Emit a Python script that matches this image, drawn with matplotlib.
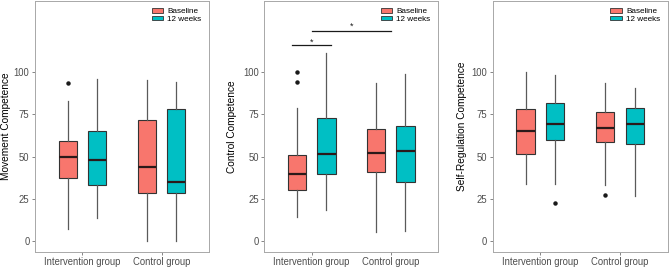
import matplotlib
matplotlib.use("Agg")
import matplotlib.pyplot as plt
from matplotlib.patches import Patch

plt.rcParams['font.family'] = ['Liberation Sans', 'DejaVu Sans']

groups = ["Intervention group", "Control group"]
timepoints = ["Baseline", "12 weeks"]
colors = ["#F8766D", "#00BFC4"]
ylabels = ["Movement Competence", "Control Competence", "Self-Regulation Competence"]
yticks = [0, 25, 50, 75, 100]

# stats per panel: [group][timepoint] = (whislo, q1, med, q3, whishi, fliers)
movement = [
    [(7.3, 37.1, 49.9, 59.4, 82.9, [93.3]), (13.8, 33.3, 47.9, 65.3, 95.7, [])],
    [(0.0, 28.2, 44.0, 71.6, 95.3, []), (0.0, 28.2, 34.7, 78.3, 93.9, [])],
]
control = [
    [(14.3, 30.1, 39.7, 51.1, 78.6, [99.8, 93.9]), (18.1, 39.5, 51.7, 72.7, 111.2, [])],
    [(5.5, 40.7, 52.1, 66.2, 93.6, []), (5.9, 35.0, 53.3, 68.0, 98.7, [])],
]
selfreg = [
    [(34.0, 51.3, 65.0, 78.0, 99.8, []), (34.0, 59.9, 69.4, 81.7, 98.2, [22.4])],
    [(33.0, 58.5, 67.0, 76.6, 93.3, [27.1]), (26.5, 57.4, 69.4, 78.6, 90.4, [])],
]
panels = [movement, control, selfreg]

# significance brackets for panel 2: (x_start, x_end, y, star_x, star_y)
sig_brackets = [(0.75, 1.25, 116.2, 1.0, 116.4), (1.0, 2.0, 124.0, 1.5, 125.5)]

fig = plt.figure(figsize=(6.69, 2.67), dpi=100)
lefts = [35 / 669, 264.3 / 669, 492.7 / 669]
widths = [174 / 669, 173.7 / 669, 175 / 669]
label_x = [-0.14, -0.158, -0.145]
bottom = 15 / 267
height = 251 / 267

grey = "#4D4D4D"
dodge = 0.1875
bw = 0.23

for pi, data in enumerate(panels):
    ax = fig.add_axes([lefts[pi], bottom, widths[pi], height])
    for gi in range(2):
        for ti in range(2):
            wl, q1, med, q3, wh, fl = data[gi][ti]
            st = dict(whislo=wl, q1=q1, med=med, q3=q3, whishi=wh, fliers=fl)
            pos = gi + 1 + (-dodge if ti == 0 else dodge)
            ax.bxp([st], positions=[pos], widths=bw, patch_artist=True, showcaps=False,
                   boxprops=dict(facecolor=colors[ti], edgecolor="#333333", linewidth=0.8),
                   medianprops=dict(color="#2b1a1a", linewidth=1.6),
                   whiskerprops=dict(color="#5a5a5a", linewidth=0.9),
                   flierprops=dict(marker='o', markersize=2.2, markerfacecolor="#1a1a1a",
                                   markeredgecolor="#1a1a1a"))
    ax.set_xlim(0.4, 2.6)
    ax.set_ylim(-6.5, 142)
    ax.set_xticks([1, 2])
    ax.set_xticklabels(groups, fontsize=6.85, color=grey)
    ax.set_yticks(yticks)
    ax.set_yticklabels([str(v) for v in yticks], fontsize=6.85, color=grey)
    ax.tick_params(axis='y', length=2.5, width=0.5, color="#555555", pad=1.5)
    ax.tick_params(axis='x', length=2.5, width=0.5, color="#555555", pad=0.8)
    ax.set_ylabel(ylabels[pi], fontsize=7.3, color="black")
    ax.yaxis.set_label_coords(label_x[pi], 0.5)
    for s in ax.spines.values():
        s.set_color("#a8a8a8")
        s.set_linewidth(0.7)
    handles = [Patch(facecolor=colors[i], edgecolor="#333333", linewidth=0.6, label=timepoints[i])
               for i in range(2)]
    ax.legend(handles=handles, loc="upper right", bbox_to_anchor=(0.975, 0.985),
              fontsize=5.9, frameon=False,
              handlelength=1.4, handleheight=0.5, handletextpad=0.5, labelspacing=0.05,
              borderaxespad=0.2, borderpad=0.2)
    if pi == 1:
        for x0, x1, y, sx, sy in sig_brackets:
            ax.plot([x0, x1], [y, y], color="#1a1a1a", linewidth=0.9)
            ax.text(sx, sy, "*", ha="center", va="baseline", fontsize=6.5, color="#1a1a1a")

fig.savefig("out.png", dpi=100)
